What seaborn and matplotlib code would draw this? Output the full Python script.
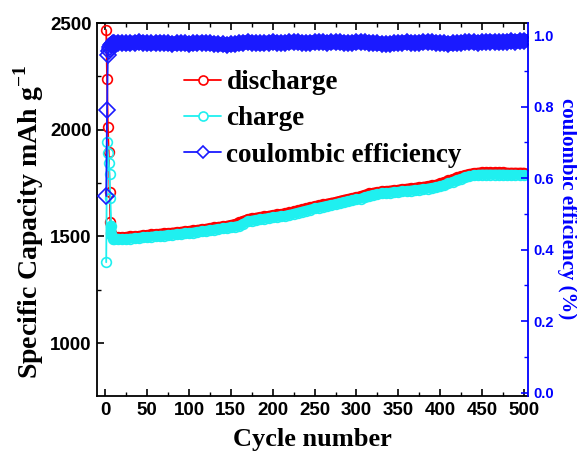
import matplotlib
matplotlib.use("Agg")
import matplotlib.pyplot as plt
from matplotlib.lines import Line2D
from matplotlib.ticker import MultipleLocator
import seaborn as sns
import pandas as pd

cycles = [1, 2, 3, 4, 5, 6, 7, 8, 9, 10,
          15, 20, 25, 30, 35, 40, 45, 50, 55, 60, 65, 70, 75, 80, 85, 90, 95, 100,
          105, 110, 115, 120, 125, 130, 135, 140, 145, 150, 155, 160, 165, 170, 175, 180,
          185, 190, 195, 200, 205, 210, 215, 220, 225, 230, 235, 240, 245, 250, 255, 260,
          265, 270, 275, 280, 285, 290, 295, 300, 305, 310, 315, 320, 325, 330, 335, 340,
          345, 350, 355, 360, 365, 370, 375, 380, 385, 390, 395, 400, 405, 410, 415, 420,
          425, 430, 435, 440, 445, 450, 455, 460, 465, 470, 475, 480, 485, 490, 495, 500]

charge = [1379, 1940, 1893, 1846, 1794, 1678, 1551, 1500, 1490, 1486,
          1486, 1487, 1488, 1490, 1491, 1493, 1495, 1497, 1499, 1501, 1503, 1504, 1506, 1508,
          1510, 1512, 1514, 1516, 1518, 1521, 1524, 1526, 1529, 1532, 1535, 1537, 1540, 1543,
          1546, 1550, 1560, 1570, 1574, 1577, 1580, 1583, 1586, 1589, 1592, 1594, 1597, 1601,
          1606, 1611, 1616, 1621, 1626, 1631, 1635, 1639, 1643, 1647, 1651, 1656, 1661, 1665,
          1669, 1673, 1677, 1683, 1689, 1694, 1698, 1701, 1703, 1705, 1707, 1709, 1711, 1713,
          1715, 1717, 1719, 1721, 1724, 1727, 1730, 1734, 1740, 1748, 1756, 1763, 1770, 1776,
          1781, 1786, 1789, 1790, 1790, 1790, 1790, 1790, 1790, 1789, 1789, 1789, 1788, 1788]

discharge = [2467, 2236, 2014, 1897, 1710, 1568, 1515, 1505, 1499, 1496,
             1496, 1497, 1498, 1500, 1501, 1503, 1505, 1507, 1509, 1511, 1513, 1514, 1516, 1518,
             1520, 1522, 1524, 1526, 1528, 1531, 1534, 1536, 1539, 1542, 1545, 1547, 1550, 1554,
             1558, 1566, 1574, 1581, 1585, 1588, 1591, 1594, 1597, 1600, 1603, 1605, 1608, 1612,
             1617, 1622, 1627, 1632, 1637, 1642, 1646, 1650, 1654, 1658, 1662, 1667, 1672, 1676,
             1680, 1684, 1689, 1696, 1701, 1705, 1708, 1711, 1713, 1715, 1717, 1719, 1722, 1724,
             1726, 1728, 1730, 1733, 1736, 1739, 1743, 1748, 1755, 1762, 1769, 1776, 1782, 1788,
             1793, 1797, 1799, 1800, 1800, 1800, 1800, 1800, 1800, 1799, 1799, 1799, 1799, 1799]

efficiency = [0.55, 0.79, 0.945, 0.955, 0.962, 0.968, 0.972, 0.975, 0.977, 0.978,
              0.979, 0.978, 0.977, 0.978, 0.979, 0.980, 0.979, 0.978, 0.977, 0.978, 0.979, 0.978,
              0.977, 0.976, 0.977, 0.978, 0.977, 0.976, 0.977, 0.978, 0.979, 0.978, 0.977, 0.976,
              0.975, 0.974, 0.973, 0.974, 0.975, 0.977, 0.979, 0.980, 0.979, 0.978, 0.977, 0.978,
              0.979, 0.980, 0.979, 0.978, 0.979, 0.980, 0.981, 0.980, 0.979, 0.978, 0.979, 0.980,
              0.981, 0.980, 0.979, 0.980, 0.981, 0.980, 0.979, 0.978, 0.979, 0.980, 0.981, 0.980,
              0.979, 0.978, 0.977, 0.976, 0.975, 0.976, 0.977, 0.978, 0.979, 0.980, 0.979, 0.978,
              0.979, 0.980, 0.981, 0.980, 0.979, 0.978, 0.977, 0.976, 0.977, 0.978, 0.979, 0.980,
              0.981, 0.980, 0.979, 0.980, 0.981, 0.982, 0.981, 0.980, 0.981, 0.982, 0.983, 0.982,
              0.983, 0.984]

x_ticks = [0, 50, 100, 150, 200, 250, 300, 350, 400, 450, 500]
left_ticks = [1000, 1500, 2000, 2500]
right_ticks = [0.0, 0.2, 0.4, 0.6, 0.8, 1.0]

df = pd.DataFrame({"cycle": cycles, "charge": charge,
                   "discharge": discharge, "efficiency": efficiency})
band = df[df["cycle"] >= 7]

sns.set_theme(style="ticks")
plt.rcParams["font.family"] = ["Liberation Sans", "DejaVu Sans"]
plt.rcParams["mathtext.fontset"] = "custom"
plt.rcParams["mathtext.rm"] = "Liberation Serif:bold"
plt.rcParams["mathtext.bf"] = "Liberation Serif:bold"
plt.rcParams["text.color"] = "black"
plt.rcParams["axes.labelcolor"] = "black"
plt.rcParams["xtick.color"] = "black"
plt.rcParams["ytick.color"] = "black"

RED = "#ff0000"
CYAN = "#1ff0f0"
BLUE = "#1a1aff"
TXTBLUE = "#0000ff"

fig = plt.figure(figsize=(5.77, 4.57), dpi=100)
ax = fig.add_axes([97 / 577, 1 - 396 / 457, 431 / 577, 373 / 457])
ax2 = ax.twinx()

# dense-band underlay (the reference's markers merge into a solid band)
sns.lineplot(data=band, x="cycle", y="discharge", ax=ax, color=RED, linewidth=7,
             solid_capstyle="round", sort=False, legend=False)
sns.lineplot(data=df, x="cycle", y="discharge", ax=ax, color=RED, marker="o",
             markeredgecolor=RED, markersize=7, markeredgewidth=1.2,
             markerfacecolor="none", linewidth=1.3, sort=False, legend=False)
sns.lineplot(data=band, x="cycle", y="charge", ax=ax, color=CYAN, linewidth=7,
             solid_capstyle="round", sort=False, legend=False)
sns.lineplot(data=df, x="cycle", y="charge", ax=ax, color=CYAN, marker="o",
             markeredgecolor=CYAN, markersize=7, markeredgewidth=1.2,
             markerfacecolor="none", linewidth=1.3, sort=False, legend=False)

sns.lineplot(data=band, x="cycle", y="efficiency", ax=ax2, color=BLUE, linewidth=10.5,
             solid_capstyle="round", sort=False, legend=False)
sns.lineplot(data=df, x="cycle", y="efficiency", ax=ax2, color=BLUE, marker="D",
             markeredgecolor=BLUE, markersize=8, markeredgewidth=1.2,
             markerfacecolor="none", linewidth=1.3, sort=False, legend=False)

ax.set_xlim(-10, 505)
ax.set_ylim(752, 2500)
ax2.set_ylim(-0.009, 1.034)

ax.set_xticks(x_ticks)
ax.set_yticks(left_ticks)
ax2.set_yticks(right_ticks)
ax.xaxis.set_minor_locator(MultipleLocator(25))
ax.yaxis.set_minor_locator(MultipleLocator(250))
ax2.yaxis.set_minor_locator(MultipleLocator(0.1))
ax2.set_yticklabels([f"{v:.1f}" for v in right_ticks])

for s in ["left", "bottom", "top"]:
    ax.spines[s].set_linewidth(1.3)
    ax.spines[s].set_color("black")
ax.spines["right"].set_visible(False)
for s in ["left", "bottom", "top"]:
    ax2.spines[s].set_visible(False)
ax2.spines["right"].set_color(TXTBLUE)
ax2.spines["right"].set_linewidth(1.3)

ax.tick_params(axis="both", which="major", direction="in", length=5, width=1.2,
               labelsize=13.5, pad=4, top=True, right=False, colors="black")
ax.tick_params(axis="both", which="minor", direction="in", length=3, width=1.0,
               top=True, right=False, colors="black")
ax2.tick_params(axis="y", which="major", direction="in", length=5, width=1.2,
                labelsize=10.5, pad=4, colors=TXTBLUE)
ax2.tick_params(axis="y", which="minor", direction="in", length=3, width=1.0,
                colors=TXTBLUE)
for lab in ax.get_xticklabels() + ax.get_yticklabels():
    lab.set_fontweight("bold")
for lab in ax2.get_yticklabels():
    lab.set_fontweight("bold")
    lab.set_color(TXTBLUE)

serif = ["Liberation Serif", "DejaVu Serif"]
ax.set_xlabel("Cycle number", family=serif, fontweight="bold", fontsize=19)
ax.xaxis.set_label_coords(0.50, -0.085)
ax.set_ylabel("Specific Capacity mAh g$^{\\mathbf{-1}}$", family=serif,
              fontweight="bold", fontsize=20)
ax.yaxis.label.set(rotation=90, va="center", ha="center", rotation_mode="default")
ax.yaxis.set_label_coords((29 - 97) / 431, (396 - 222) / 373)
ax2.set_ylabel("coulombic efficiency (%)", family=serif, fontweight="bold",
               fontsize=15, color=TXTBLUE)
ax2.yaxis.label.set(rotation=270, va="center", ha="center", rotation_mode="default")
ax2.yaxis.set_label_coords((567 - 97) / 431, (396 - 209) / 373)

handles = [
    Line2D([], [], color=RED, marker="o", markersize=6.5, markeredgewidth=1.2,
           markerfacecolor="white", markeredgecolor=RED, linewidth=1.3),
    Line2D([], [], color=CYAN, marker="o", markersize=6.5, markeredgewidth=1.2,
           markerfacecolor="white", markeredgecolor=CYAN, linewidth=1.3),
    Line2D([], [], color=BLUE, marker="D", markersize=6.5, markeredgewidth=1.2,
           markerfacecolor="white", markeredgecolor=BLUE, linewidth=1.3),
]
labels = ["discharge", "charge", "coulombic efficiency"]
ax2.legend(handles, labels, loc="upper left", bbox_to_anchor=(0.203, 0.874),
           frameon=False, borderpad=0, borderaxespad=0, handlelength=1.35,
           handletextpad=0.2, labelspacing=0.42,
           prop={"family": serif, "weight": "bold", "size": 19.5})

fig.savefig("out.png", dpi=100)
